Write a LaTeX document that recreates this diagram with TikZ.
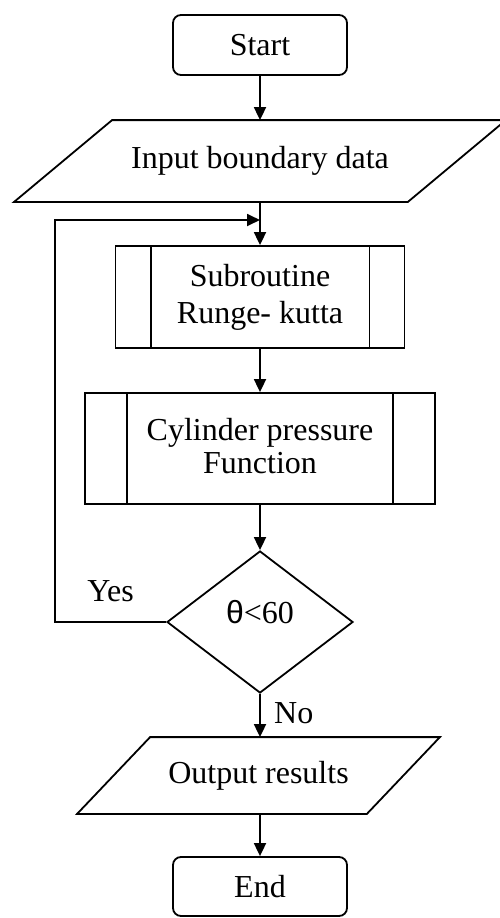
\documentclass[tikz,border=0pt]{standalone}
\usepackage{fontspec}
\setmainfont{Liberation Serif}
\setsansfont{Liberation Sans}
\usetikzlibrary{shapes.geometric,arrows.meta}

\begin{document}
\begin{tikzpicture}[x=1pt, y=-1pt, line width=1.8pt,
  every node/.style={font=\fontsize{32}{37}\selectfont},
  term/.style={rectangle,draw,rounded corners=8pt,minimum width=174pt,minimum height=60pt},
  io/.style={rectangle,inner sep=0pt},
  proc/.style={rectangle,draw,align=center,inner sep=0pt},
  dec/.style={diamond,draw,inner sep=0pt,minimum width=186pt,minimum height=142pt},
  arr/.style={-{Triangle[length=13pt,width=12pt]}}]
  \useasboundingbox (0,0) rectangle (499,918);

  % Start
  \node[term] (start) at (260,45) {Start};

  % Input
  \node[io,minimum width=392pt,minimum height=80pt] (in) at (260,161) {Input boundary data};

  % Subroutines
  \node[proc,minimum width=289pt,minimum height=102pt] (sub) at (260,297) {Subroutine\\Runge- kutta};
  \node[proc,minimum width=350pt,minimum height=111pt] (cyl) at (260,448.5) {\raisebox{5pt}{Cylinder pressure}\\[-4pt]\raisebox{5pt}{Function}};
  \foreach \n/\d in {sub/36, cyl/43} {
    \draw ([xshift=\d pt]\n.north west) -- ([xshift=\d pt]\n.south west);
    \draw ([xshift=-\d pt]\n.north east) -- ([xshift=-\d pt]\n.south east);
  }

  % Decision
  \node[dec] (test) at (260,622) {\raisebox{20pt}{{\sffamily θ}<60}};

  % Output
  \node[io,minimum width=288pt,minimum height=75pt] (out) at (258.5,775.5) {\raisebox{6pt}{Output results}};

  % Parallelograms
  \foreach \n/\s in {in/49, out/36.5} {
    \draw ([xshift=\s pt]\n.north west) -- ([xshift=\s pt]\n.north east)
      -- ([xshift=-\s pt]\n.south east) -- ([xshift=-\s pt]\n.south west) -- cycle;
  }

  % End
  \node[term,minimum height=59pt] (end) at (260,886.5) {End};

  % Loop points
  \coordinate (back) at (55,220);
  \coordinate (join) at (260,220);

  % Connections
  \draw[arr] (start) -- (in);
  \draw[arr] (in) -- (sub);
  \draw[arr] (sub) -- (cyl);
  \draw[arr] (cyl) -- (test);
  \draw[arr] (test) -- node[right,xshift=10pt,yshift=2pt] {No} (out.north -| test);
  \draw[arr] (out.south -| end) -- (end);
  \draw[arr] (test.west) -| node[pos=0.25,above=16pt] {Yes} (back) -- (join);
\end{tikzpicture}
\end{document}
